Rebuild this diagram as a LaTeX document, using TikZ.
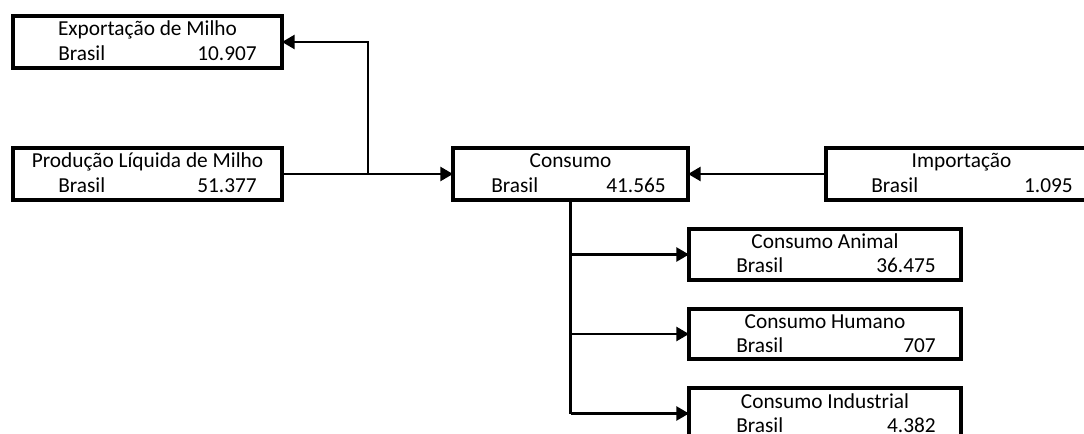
\documentclass[tikz,border=0pt]{standalone}
\usepackage{fontspec}
\setmainfont{Carlito}
\usetikzlibrary{arrows.meta,fit,calc}

\tikzset{
  fbox/.style={draw=black, line width=2.6pt, inner sep=0pt, outer sep=0pt},
  conn/.style={draw=black, line width=1.9pt},
  arr/.style={conn, -{Triangle[length=9.5pt,width=10.5pt]}},
  txt/.style={inner sep=0pt, font=\fontsize{16}{18}\selectfont},
}

% #1 name, #2-#5 corners (x1,y1,x2,y2), #6 title, #7 value,
% #8 left inset of "Brasil", #9 right inset of the value
\newcommand{\flowbox}[9]{%
  \node[fbox, fit={(#2,#3) (#4,#5)}] (#1) {};
  \node[txt, anchor=base] (#1-title) at ($(#1.north)+(0,20)$) {#6};
  \node[txt, anchor=base west] (#1-region) at ($(#1.south west)+(#8,-7)$) {Brasil};
  \node[txt, anchor=base east] (#1-value) at ($(#1.south east)+(-#9,-7)$) {#7};
}

\begin{document}
\begin{tikzpicture}[x=0.75pt, y=-0.75pt]
  \useasboundingbox (0,0) rectangle (1084,434);
  \clip (0,0) rectangle (1084,434);
  \fill[white] (0,0) rectangle (1084,434);

  \flowbox{exp}{13}{16}{282}{68}{Exportação de Milho}{10.907}{45}{25}
  \flowbox{prod}{13}{148}{282}{200}{Produção Líquida de Milho}{51.377}{45}{25}
  \flowbox{cons}{453}{148}{688}{200}{Consumo}{41.565}{38}{22}
  \flowbox{imp}{826}{148}{1097}{200}{Importação}{1.095}{45}{24}
  \flowbox{ani}{689}{229}{961}{280}{Consumo Animal}{36.475}{47}{25}
  \flowbox{hum}{689}{309}{961}{359}{Consumo Humano}{707}{47}{25}
  \flowbox{ind}{689}{388}{961}{439}{Consumo Industrial}{4.382}{47}{25}

  % supply side
  \coordinate (split) at (368,174);
  \draw[arr] (prod.east) -- (cons.west);
  \draw[arr] (split) |- (exp.east);
  \draw[arr] (imp.west) -- (cons.east);

  % consumption breakdown
  \draw[conn] (cons.south) -- (cons.south |- ind.west);
  \draw[arr] (cons.south |- ani.west) -- (ani.west);
  \draw[arr] (cons.south |- hum.west) -- (hum.west);
  \draw[arr] (cons.south |- ind.west) -- (ind.west);
\end{tikzpicture}
\end{document}
